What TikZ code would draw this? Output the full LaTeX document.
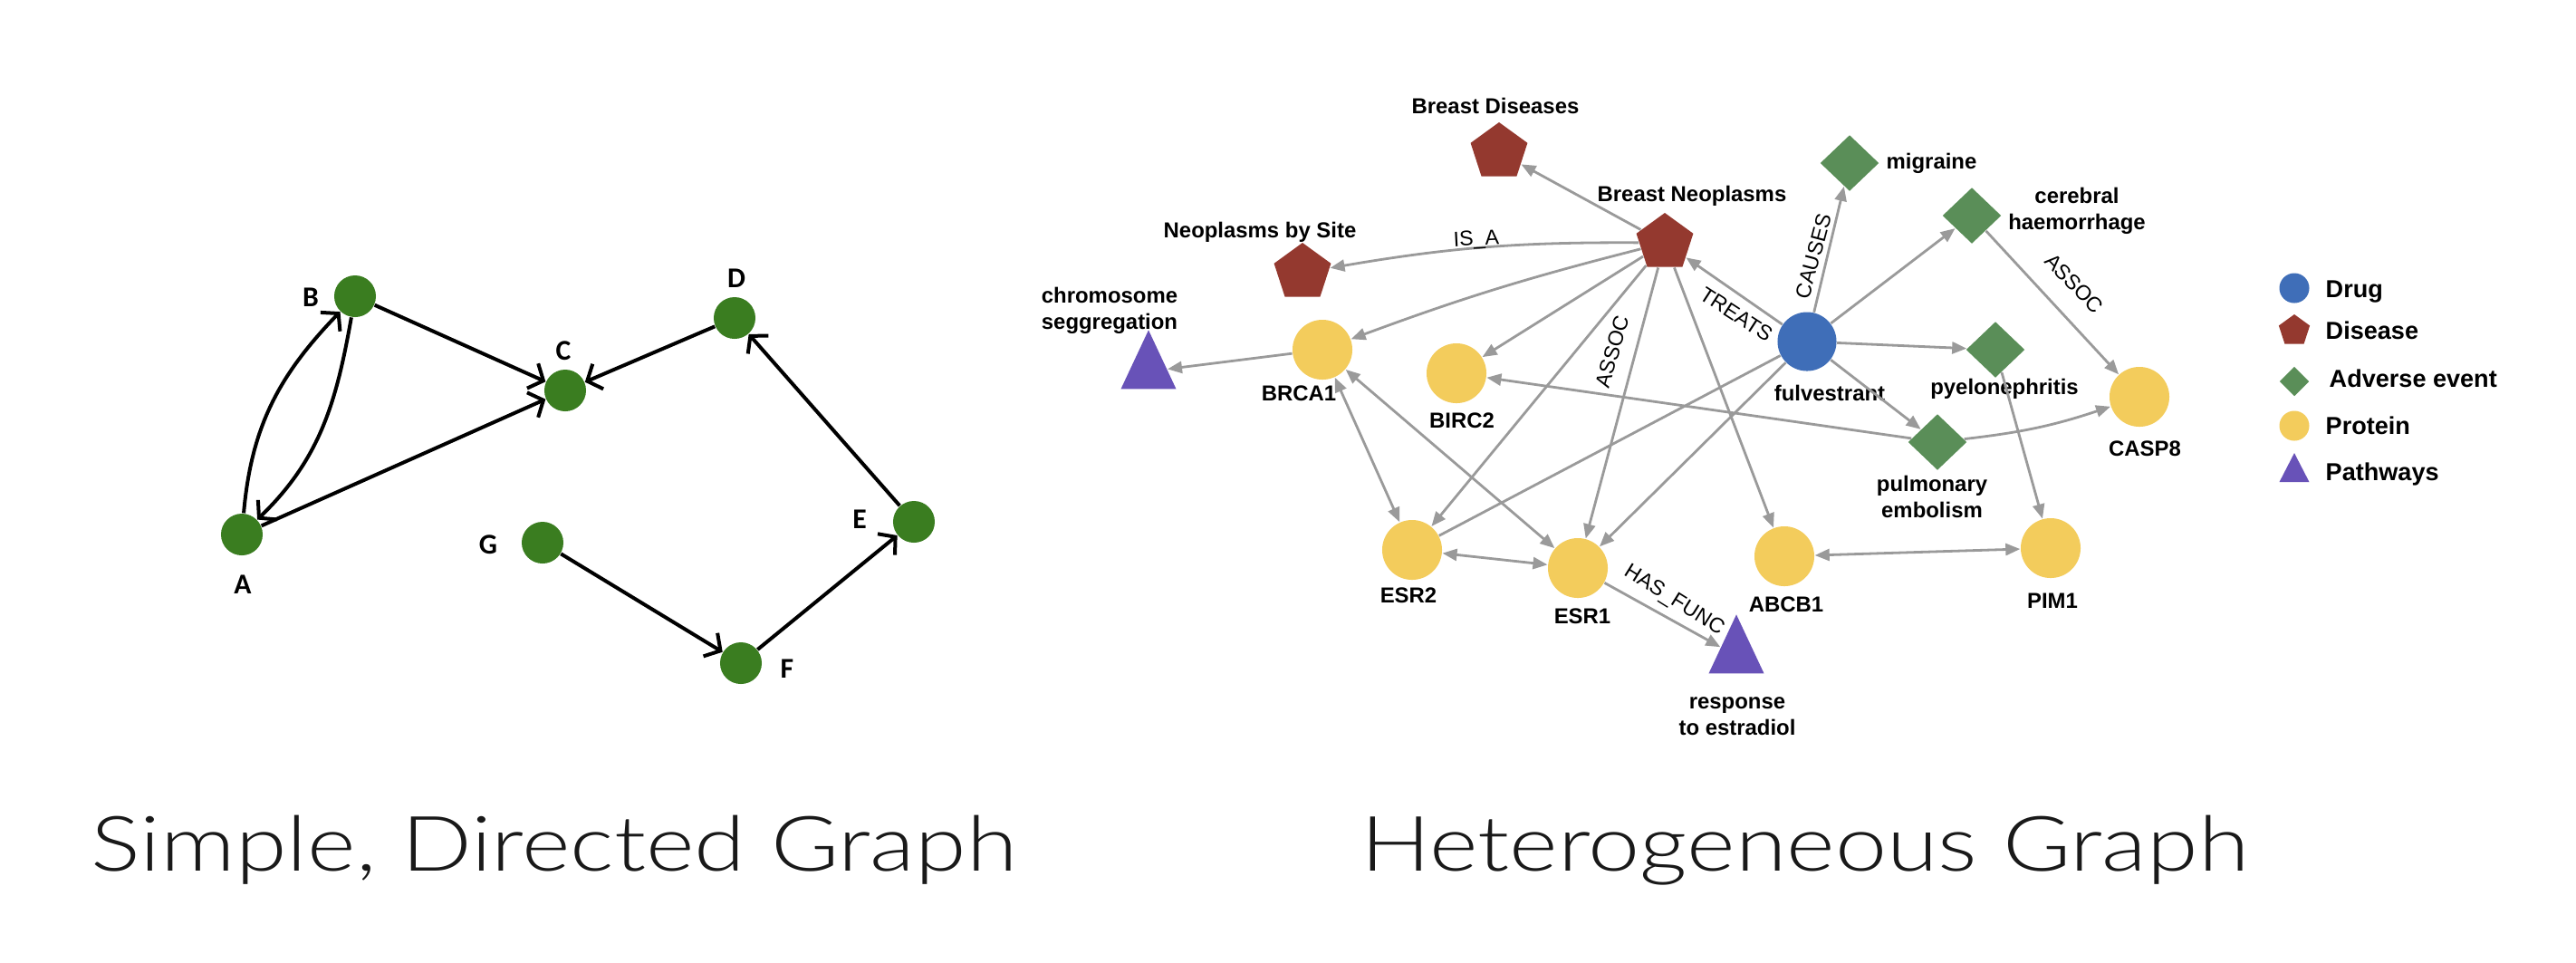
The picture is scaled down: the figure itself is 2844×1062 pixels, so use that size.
\documentclass[tikz,border=0pt]{standalone}
\usepackage{fontspec}
\setmainfont{Liberation Sans}
\newfontfamily\calfont{Carlito}
\IfFontExistsTF{Lato Light}{\newfontfamily\capfont{Lato Light}[FakeStretch=1.215]}{\newfontfamily\capfont{Lato}[FakeStretch=1.215]}
\usetikzlibrary{shapes.geometric,arrows.meta}
\definecolor{leftgreen}{HTML}{3A7D20}
\definecolor{drugblue}{HTML}{3F6EB8}
\definecolor{disease}{HTML}{94392F}
\definecolor{adverse}{HTML}{5A8E58}
\definecolor{protein}{HTML}{F3CC5C}
\definecolor{pathway}{HTML}{6852B8}
\definecolor{edgegray}{HTML}{9A9A9A}
\tikzset{
  gnode/.style={circle, fill=leftgreen, minimum size=0.46cm, inner sep=0pt},
  glab/.style={font=\calfont\bfseries\fontsize{9}{11}\selectfont, inner sep=0pt, anchor=base},
  garrow/.style={line width=0.04cm, -{Straight Barb[length=0.13cm,width=0.3cm]}},
  prot/.style={circle, fill=protein, minimum size=0.66cm, inner sep=0pt},
  drug/.style={circle, fill=drugblue, minimum size=0.65cm, inner sep=0pt},
  dis/.style={regular polygon, regular polygon sides=5, fill=disease, minimum size=0.66cm, inner sep=0pt},
  adv/.style={diamond, fill=adverse, minimum width=0.65cm, minimum height=0.62cm, inner sep=0pt},
  pathw/.style={isosceles triangle, isosceles triangle stretches, shape border rotate=90, fill=pathway, minimum width=0.61cm, minimum height=0.65cm, inner sep=0pt},
  nlab/.style={font=\bfseries\fontsize{6.8}{8.25}\selectfont, inner sep=0pt, align=center},
  elab/.style={font=\fontsize{6.6}{8}\selectfont, inner sep=0pt},
  legtext/.style={font=\bfseries\fontsize{7.7}{9}\selectfont, inner sep=0pt, anchor=base west},
  harrow/.style={draw=edgegray, line width=0.028cm, -{Triangle[length=0.16cm,width=0.13cm]}},
  hdouble/.style={draw=edgegray, line width=0.028cm, {Triangle[length=0.16cm,width=0.13cm]}-{Triangle[length=0.16cm,width=0.13cm]}},
  hline/.style={draw=edgegray, line width=0.028cm},
  caption/.style={font=\capfont\fontsize{24}{29}\selectfont, inner sep=0pt, anchor=base west, text=black!90}
}
\begin{document}
\begin{tikzpicture}[x=0.01cm,y=0.01cm]
\useasboundingbox[fill=white] (0,0) rectangle (2844,-1062);

% ---------- Simple, directed graph ----------
\node[gnode] (A) at (267,-590) {};
\node[gnode] (B) at (392,-327) {};
\node[gnode] (C) at (624,-431) {};
\node[gnode] (D) at (811,-351) {};
\node[gnode] (E) at (1009,-576) {};
\node[gnode] (F) at (818,-732) {};
\node[gnode] (G) at (599,-599) {};
\node[glab] (lA) at (268,-655) {A};
\node[glab] (lB) at (343,-338) {B};
\node[glab] (lC) at (622,-397) {C};
\node[glab] (lD) at (813,-317) {D};
\node[glab] (lE) at (949,-583) {E};
\node[glab] (lF) at (869,-748) {F};
\node[glab] (lG) at (539,-611) {G};
\draw[garrow] (B) -- (C);
\draw[garrow] (A) -- (C);
\draw[garrow] (D) -- (C);
\draw[garrow] (A) to[out=85,in=226] (B);
\draw[garrow] (B) to[out=-100,in=44] (A);
\draw[garrow] (E) -- (D);
\draw[garrow] (G) -- (F);
\draw[garrow] (F) -- (E);

% ---------- Heterogeneous graph ----------
\node[dis] (BD) at (1655,-168) {};
\node[dis] (BN) at (1838,-268) {};
\node[dis] (NbS) at (1438,-301) {};
\node[pathw] (CS) at (1268,-410) {};
\node[prot] (BRCA1) at (1460,-386) {};
\node[prot] (BIRC2) at (1608,-412) {};
\node[prot] (ESR2) at (1559,-607) {};
\node[prot] (ESR1) at (1742,-627) {};
\node[prot] (ABCB1) at (1970,-614) {};
\node[pathw] (RE) at (1917,-724) {};
\node[drug] (fulv) at (1995,-377) {};
\node[adv] (mig) at (2042,-180) {};
\node[adv] (CH) at (2177,-238) {};
\node[adv] (pyelo) at (2203,-386) {};
\node[adv] (PE) at (2139,-488) {};
\node[prot] (CASP8) at (2362,-438) {};
\node[prot] (PIM1) at (2264,-605) {};

\node[nlab, anchor=base] (tBD) at (1651,-125) {Breast Diseases};
\node[nlab, anchor=base] (tBN) at (1868,-222) {Breast Neoplasms};
\node[nlab, anchor=base] (tNbS) at (1391,-262) {Neoplasms by Site};
\node[nlab] (tCS) at (1225,-343) {chromosome\\seggregation};
\node[nlab, anchor=base] (tBRCA1) at (1434,-442) {BRCA1};
\node[nlab, anchor=base] (tBIRC2) at (1614,-472) {BIRC2};
\node[nlab, anchor=base] (tESR2) at (1555,-665) {ESR2};
\node[nlab, anchor=base] (tESR1) at (1747,-688) {ESR1};
\node[nlab, anchor=base] (tABCB1) at (1972,-675) {ABCB1};
\node[nlab] (tRE) at (1918,-791) {response\\to estradiol};
\node[nlab, anchor=base] (tfulv) at (2020,-442) {fulvestrant};
\node[nlab, anchor=base west] (tmig) at (2082,-186) {migraine};
\node[nlab] (tCH) at (2293,-233) {cerebral\\haemorrhage};
\node[nlab, anchor=base] (tpyelo) at (2213,-435) {pyelonephritis};
\node[nlab] (tPE) at (2133,-548) {pulmonary\\embolism};
\node[nlab, anchor=base] (tCASP8) at (2368,-503) {CASP8};
\node[nlab, anchor=base] (tPIM1) at (2266,-671) {PIM1};

\draw[harrow] (BN) -- (BD);
\draw[harrow] (BN) to[bend right=5] (NbS);
\draw[harrow] (BN) to[bend right=3] (BRCA1);
\draw[harrow] (BN) -- (BIRC2);
\draw[harrow] (BN) -- (ESR2);
\draw[harrow] (BN) -- (ESR1);
\draw[harrow] (BN) -- (ABCB1);
\draw[harrow] (fulv) -- (BN);
\draw[harrow] (fulv) -- (mig);
\draw[harrow] (fulv) -- (CH);
\draw[harrow] (fulv) -- (pyelo);
\draw[harrow] (fulv) -- (PE);
\draw[harrow] (fulv) -- (ESR1);
\draw[hline] (fulv) -- (ESR2);
\draw[harrow] (CH) -- (CASP8);
\draw[harrow] (PE) to[bend right=6] (CASP8);
\draw[harrow] (PE) -- (BIRC2);
\draw[harrow] (pyelo) -- (PIM1);
\draw[hdouble] (ABCB1) -- (PIM1);
\draw[hdouble] (ESR2) -- (ESR1);
\draw[hdouble] (BRCA1) -- (ESR2);
\draw[hdouble] (BRCA1) -- (ESR1);
\draw[harrow] (BRCA1) -- (CS);
\draw[harrow] (ESR1) -- (RE);

\node[elab, rotate=3] (eISA) at (1630,-265) {IS\_A};
\node[elab, rotate=-33] (eTREATS) at (1917,-347) {TREATS};
\node[elab, rotate=75] (eCAUSES) at (2002,-283) {CAUSES};
\node[elab, rotate=74] (eASSOC1) at (1780,-388) {ASSOC};
\node[elab, rotate=-46] (eASSOC2) at (2290,-313) {ASSOC};
\node[elab, rotate=-32] (eHAS) at (1848,-663) {HAS\_FUNC};

% ---------- Legend ----------
\node[drug, minimum size=0.33cm] (kDrug) at (2533,-318) {};
\node[dis, minimum size=0.36cm] (kDis) at (2533,-365) {};
\node[adv, minimum width=0.33cm, minimum height=0.33cm] (kAdv) at (2533,-421) {};
\node[prot, minimum size=0.33cm] (kProt) at (2533,-470) {};
\node[pathw, minimum width=0.33cm, minimum height=0.32cm] (kPath) at (2533,-522) {};
\node[legtext] (ktDrug) at (2567,-328) {Drug};
\node[legtext] (ktDis) at (2567,-374) {Disease};
\node[legtext] (ktAdv) at (2571,-427) {Adverse event};
\node[legtext] (ktProt) at (2567,-479) {Protein};
\node[legtext] (ktPath) at (2567,-530) {Pathways};

% ---------- Captions ----------
\node[caption] (cap1) at (100,-961) {Simple, Directed Graph};
\node[caption] (cap2) at (1502,-961) {Heterogeneous Graph};
\end{tikzpicture}
\end{document}
